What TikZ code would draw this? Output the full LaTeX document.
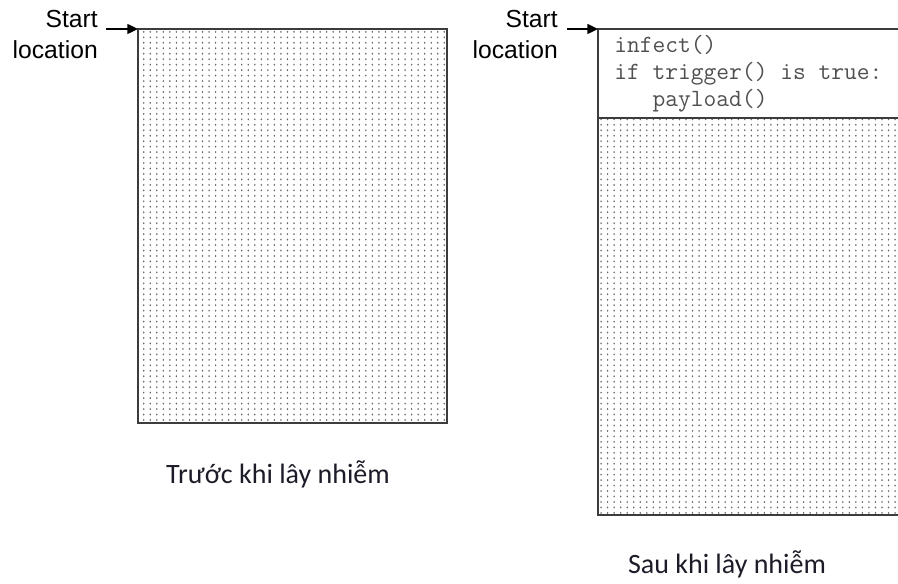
\documentclass[tikz,border=0pt]{standalone}
\usepackage{fontspec}
\setmainfont{Liberation Sans}
\newfontfamily\captionfont{Carlito}
\usetikzlibrary{arrows.meta,patterns}

% fine stipple used to shade the program bodies
\pgfdeclarepatternformonly{stipple}{\pgfqpoint{-1pt}{-1pt}}{\pgfqpoint{5.9pt}{5.1pt}}{\pgfqpoint{4.9pt}{4.1pt}}{%
  \pgfpathellipse{\pgfqpoint{0pt}{0pt}}{\pgfqpoint{0.6pt}{0pt}}{\pgfqpoint{0pt}{0.8pt}}%
  \pgfusepath{fill}}

\definecolor{frame}{RGB}{60,60,60}
\definecolor{dots}{RGB}{105,105,105}
\definecolor{codegray}{RGB}{80,80,80}
\definecolor{captext}{RGB}{28,28,40}

\tikzset{
  body/.style={pattern=stipple, pattern color=dots},
  frameline/.style={draw=frame, line width=1.4pt},
  startarrow/.style={draw=black, line width=1pt, -{Triangle[length=8pt,width=7.5pt]}},
  startlabel/.style={font=\fontsize{18.5}{21}\selectfont, anchor=base east, inner sep=0pt},
  codeline/.style={font=\ttfamily\fontsize{18.6}{21}\selectfont, text=codegray, anchor=base west, inner sep=0pt},
  captionlabel/.style={font=\captionfont\fontsize{21}{25}\selectfont, text=captext, anchor=base, inner sep=0pt}
}

\begin{document}
\begin{tikzpicture}[x=0.75pt, y=-0.75pt]
\useasboundingbox (0,0) rectangle (898,584);

% ---- program before infection ----
\fill[body] (138,29) rectangle (447,423);
\draw[frameline] (138,29) rectangle (447,423);
\coordinate (Lbox) at (138,29);
\node[startlabel] (Lstart) at (98,28) {Start};
\node[startlabel] (Lloc) at (98,59) {location};
\coordinate (Ltail) at (106,29);
\draw[startarrow] (Ltail) -- (Lbox);
\node[captionlabel] (Lcap) at (278,483) {Trước khi lây nhiễm};

% ---- program after infection ----
\fill[body] (598,118) rectangle (899,515);
\draw[frameline] (899,29) -- (598,29) -- (598,515) -- (899,515);
\draw[frameline] (598,118) -- (899,118);
\coordinate (Rbox) at (598,29);
\node[startlabel] (Rstart) at (558,28) {Start};
\node[startlabel] (Rloc) at (558,59) {location};
\coordinate (Rtail) at (567,29);
\draw[startarrow] (Rtail) -- (Rbox);

\node[codeline] (c1) at (614,53) {infect()};
\node[codeline] (c2) at (614,80) {if trigger() is true:};
\node[codeline] (c3) at (614,107) {\ \ \ payload()};

\node[captionlabel] (Rcap) at (727,573) {Sau khi lây nhiễm};
\end{tikzpicture}
\end{document}
